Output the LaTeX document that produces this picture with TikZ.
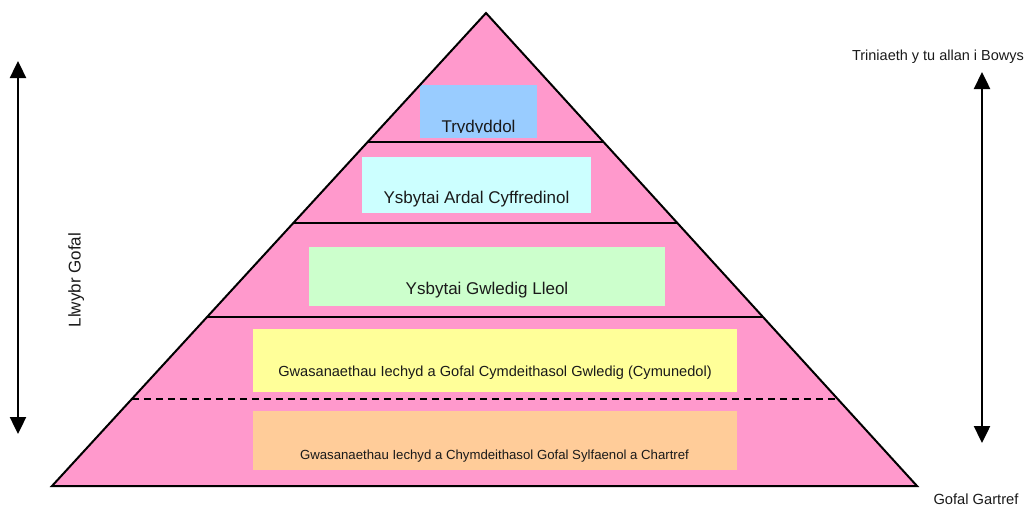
\documentclass[tikz,border=0pt]{standalone}
\usepackage{fontspec}
\setmainfont{Liberation Sans}
\usetikzlibrary{calc,arrows.meta}
\definecolor{pyrpink}{HTML}{FF99CC}
\definecolor{tierblue}{HTML}{99CCFF}
\definecolor{tiercyan}{HTML}{CCFFFF}
\definecolor{tiergreen}{HTML}{CCFFCC}
\definecolor{tieryellow}{HTML}{FFFF99}
\definecolor{tierorange}{HTML}{FFCC99}
\definecolor{ink}{HTML}{1A1A1A}
\tikzset{
  tierlabel/.style={anchor=base, inner sep=0pt, text=ink},
  divider/.style={line width=2pt, black},
  bigarrow/.style={line width=2.4pt, {Triangle[width=16pt,length=17pt]}-{Triangle[width=16pt,length=17pt]}},
  sidelabel/.style={inner sep=0pt, text=ink},
}
\newcommand{\fsz}[1]{\fontsize{#1}{#1}\selectfont}
\begin{document}
\begin{tikzpicture}[x=1pt,y=-1pt]
\useasboundingbox (0,0) rectangle (1027,507);

% pyramid corners
\coordinate (apex) at (486,13);
\coordinate (bl) at (52,486);
\coordinate (br) at (917,486);

\fill[pyrpink] (apex) -- (bl) -- (br) -- cycle;

% tier boxes
\fill[tierblue]   (420,85)  rectangle (537,137.5);
\fill[tiercyan]   (362,157) rectangle (591,213);
\fill[tiergreen]  (309,247) rectangle (665,306);
\fill[tieryellow] (253,329) rectangle (737,392);
\fill[tierorange] (253,411) rectangle (737,470);

% tier labels (the top one is cut off by its text frame)
\begin{scope}
  \clip (420,85) rectangle (537,132.8);
  \node[tierlabel, font=\fsz{17}] (tertiary) at (478.5,132) {Trydyddol};
\end{scope}
\node[tierlabel, font=\fsz{17}] (district) at (476.5,203) {Ysbytai Ardal Cyffredinol};
\node[tierlabel, font=\fsz{17}] (rural) at (487,294.3) {Ysbytai Gwledig Lleol};
\node[tierlabel, font=\fsz{14.6}] (community) at (495,376.7) {Gwasanaethau Iechyd a Gofal Cymdeithasol Gwledig (Cymunedol)};
\node[tierlabel, font=\fsz{13.2}] (primary) at (494.5,459.3) {Gwasanaethau Iechyd a Chymdeithasol Gofal Sylfaenol a Chartref};

% dividing lines between the tiers
\coordinate (l1) at ($(apex)!{129/473}!(bl)$);
\coordinate (r1) at ($(apex)!{129/473}!(br)$);
\coordinate (l2) at ($(apex)!{210/473}!(bl)$);
\coordinate (r2) at ($(apex)!{210/473}!(br)$);
\coordinate (l3) at ($(apex)!{304/473}!(bl)$);
\coordinate (r3) at ($(apex)!{304/473}!(br)$);
\coordinate (l4) at ($(apex)!{386/473}!(bl)$);
\coordinate (r4) at ($(apex)!{386/473}!(br)$);
\draw[divider] (l1) -- (r1);
\draw[divider] (l2) -- (r2);
\draw[divider] (l3) -- (r3);
\draw[divider, dash pattern=on 7pt off 5pt] (l4) -- (r4);

% pyramid outline
\draw[line width=2pt, line join=miter] (apex) -- (bl) -- (br) -- cycle;

% care pathway arrow on the left
\coordinate (cpTop) at (18,61);
\coordinate (cpBot) at (18,434);
\draw[bigarrow] (cpTop) -- (cpBot);
\node[sidelabel, font=\fsz{17}, rotate=90, anchor=base] (pathway) at (80.5,280) {Llwybr Gofal};

% treatment arrow on the right
\coordinate (trTop) at (982,72);
\coordinate (trBot) at (982,443);
\draw[bigarrow] (trTop) -- (trBot);
\node[sidelabel, font=\fsz{14.5}, anchor=base] (outside) at (938,60.7) {Triniaeth y tu allan i Bowys};
\node[sidelabel, font=\fsz{14.7}, anchor=base] (home) at (976,504.5) {Gofal Gartref};
\end{tikzpicture}
\end{document}
